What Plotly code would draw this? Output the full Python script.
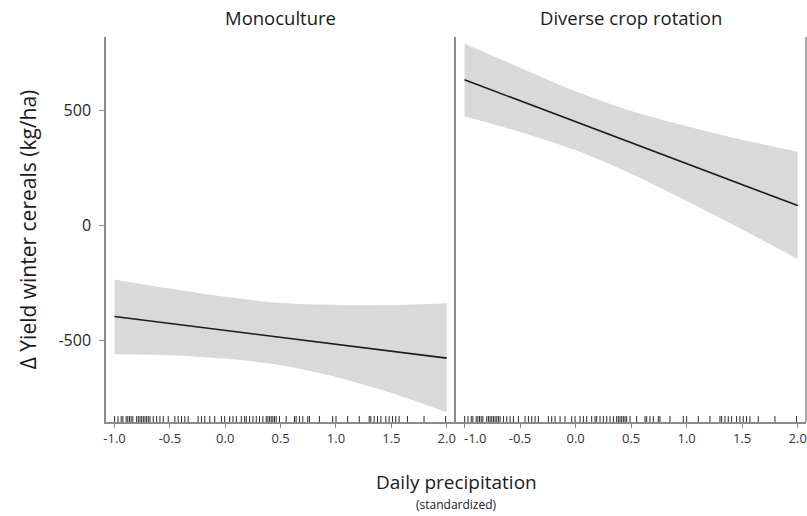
import plotly.graph_objects as go

# ---- data ----
panel_titles = ["Monoculture", "Diverse crop rotation"]
x_grid = [-1.0, -0.5, 0.0, 0.5, 1.0, 1.5, 2.0]

mono_fit = [-397, -427, -457, -488, -518, -548, -578]
mono_upper = [-235, -275, -311, -338, -346, -347, -339]
mono_lower = [-561, -565, -580, -609, -660, -730, -814]

div_fit = [635, 544, 452, 361, 270, 178, 87]
div_upper = [792, 688, 585, 499, 433, 374, 322]
div_lower = [476, 408, 328, 226, 107, -17, -146]

rug_x = [-0.999, -0.969, -0.94, -0.925, -0.895, -0.88, -0.865, -0.85, -0.835,
         -0.80, -0.785, -0.77, -0.755, -0.74, -0.725, -0.71, -0.695, -0.68,
         -0.65, -0.62, -0.59, -0.56, -0.515, -0.455, -0.425, -0.395, -0.365,
         -0.335, -0.245, -0.215, -0.185, -0.14, -0.095, -0.035, -0.005, 0.04,
         0.07, 0.10, 0.145, 0.175, 0.19, 0.22, 0.25, 0.28, 0.31, 0.34, 0.37,
         0.385, 0.40, 0.415, 0.43, 0.445, 0.46, 0.49, 0.55, 0.625, 0.64, 0.67,
         0.70, 0.745, 0.76, 0.85, 0.97, 1.00, 1.105, 1.21, 1.30, 1.315, 1.345,
         1.375, 1.405, 1.45, 1.48, 1.51, 1.54, 1.57, 1.645, 1.795, 1.99]

x_tickvals = [-1.0, -0.5, 0.0, 0.5, 1.0, 1.5, 2.0]
x_ticktext = ["-1.0", "-0.5", "0.0", "0.5", "1.0", "1.5", "2.0"]
y_tickvals = [500, 0, -500]
y_ticktext = ["500", "0", "-500"]

y_title = "Δ Yield winter cereals (kg/ha)"
x_title = "Daily precipitation"
x_subtitle = "(standardized)"

# ---- styling ----
XR = [-1.077, 2.075]
YR = [-856.5, 821.7]
RUG_H = 26
BAND = "#d9d9d9"
AX = "#8c8c8c"
FONT = "Open Sans"

fig = go.Figure()

panels = [(mono_fit, mono_upper, mono_lower, "x", "y"),
          (div_fit, div_upper, div_lower, "x2", "y2")]

for fit, up, lo, xa, ya in panels:
    fig.add_trace(go.Scatter(x=x_grid, y=lo, mode="lines",
                             line=dict(width=0, color=BAND, shape="spline", smoothing=0.8),
                             xaxis=xa, yaxis=ya, hoverinfo="skip", showlegend=False))
    fig.add_trace(go.Scatter(x=x_grid, y=up, mode="lines", fill="tonexty",
                             fillcolor=BAND,
                             line=dict(width=0, color=BAND, shape="spline", smoothing=0.8),
                             xaxis=xa, yaxis=ya, hoverinfo="skip", showlegend=False))
    fig.add_trace(go.Scatter(x=x_grid, y=fit, mode="lines",
                             line=dict(color="#1a1a1a", width=1.6),
                             xaxis=xa, yaxis=ya, showlegend=False))
    rx, ry = [], []
    for v in rug_x:
        rx += [v, v, None]
        ry += [YR[0], YR[0] + RUG_H, None]
    fig.add_trace(go.Scatter(x=rx, y=ry, mode="lines",
                             line=dict(color="#2a2a2a", width=1),
                             xaxis=xa, yaxis=ya, hoverinfo="skip", showlegend=False))

TICKFONT = dict(family=FONT, size=13, color="#333333")
xcommon = dict(range=XR, tickvals=x_tickvals, showgrid=False,
               zeroline=False, showline=True, linecolor=AX, linewidth=1.5,
               ticks="outside", ticklen=4, tickcolor=AX, tickwidth=1,
               tickfont=TICKFONT)
# right panel: first label drawn slightly to the right (as in the reference)
x2_ticktext = [""] + x_ticktext[1:]

fig.update_layout(
    width=807, height=516,
    margin=dict(l=106, r=1, t=37, b=94),
    plot_bgcolor="white", paper_bgcolor="white",
    xaxis=dict(domain=[0, 0.4986], anchor="y", ticktext=x_ticktext, **xcommon),
    xaxis2=dict(domain=[0.5, 1.0], anchor="y2", ticktext=x2_ticktext, **xcommon),
    yaxis=dict(range=YR, tickvals=y_tickvals, ticktext=y_ticktext, showgrid=False,
               zeroline=False, showline=True, linecolor=AX, linewidth=1.5,
               ticks="outside", ticklen=5, tickcolor=AX, tickwidth=1,
               ticklabelstandoff=5,
               tickfont=dict(family=FONT, size=16, color="#262626"),
               title=dict(text=y_title, font=dict(family=FONT, size=21, color="#1a1a1a"),
                          standoff=16)),
    yaxis2=dict(range=YR, anchor="x2", showgrid=False, zeroline=False, showline=True,
                linecolor=AX, linewidth=1.5, showticklabels=False, ticks=""),
    annotations=[
        dict(text=panel_titles[0], x=0.2493, y=1.0, xref="paper", yref="paper",
             xanchor="center", yanchor="bottom", yshift=5, showarrow=False,
             font=dict(family=FONT, size=18.5, color="#1a1a1a")),
        dict(text=panel_titles[1], x=0.75, y=1.0, xref="paper", yref="paper",
             xanchor="center", yanchor="bottom", yshift=5, showarrow=False,
             font=dict(family=FONT, size=18.5, color="#1a1a1a")),
        dict(text=x_ticktext[0], x=x_tickvals[0], y=0, xref="x2", yref="paper",
             xanchor="center", yanchor="middle", xshift=10, yshift=-16,
             showarrow=False, font=TICKFONT),
        dict(text=x_title, x=0.5, y=0, xref="paper", yref="paper",
             xanchor="center", yanchor="middle", yshift=-60, showarrow=False,
             font=dict(family=FONT, size=19, color="#1a1a1a")),
        dict(text=x_subtitle, x=0.5, y=0, xref="paper", yref="paper",
             xanchor="center", yanchor="middle", yshift=-82, showarrow=False,
             font=dict(family=FONT, size=12, color="#1a1a1a")),
    ],
    shapes=[dict(type="line", xref="paper", yref="paper", x0=1.0, x1=1.0, y0=0, y1=1,
                 line=dict(color=AX, width=1.5))],
)

fig.write_html("out.html")
